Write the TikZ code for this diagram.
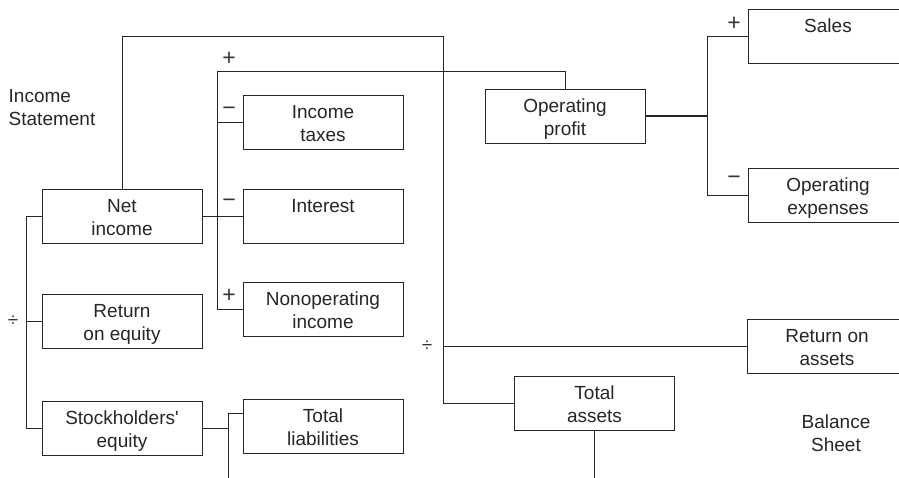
\documentclass[tikz,border=0pt]{standalone}
\usepackage{fontspec}
\setmainfont{Liberation Sans}[Ligatures=TeXOff]
\newcommand\mybox[5]{%
  \node[boxst] (#1) at #2 {};
  \node[txt] (#1t) at ([yshift=-3.2pt]#1.center) {\strut #3\\\strut #4};}
\begin{document}
\begin{tikzpicture}[x=1pt,y=-1pt,
  ln/.style={draw=black!85, line width=0.9pt},
  boxst/.style={draw=black!85, line width=0.9pt, minimum width=160pt, minimum height=54pt, inner sep=0pt},
  txt/.style={font=\fontsize{19}{23}\selectfont, align=center, inner sep=0pt, text=black!85},
  sgn/.style={font=\fontsize{23}{25}\selectfont, inner sep=0pt, text=black!80},
  dv/.style={font=\fontsize{19}{21}\selectfont, inner sep=0pt, text=black!80}]
\clip (0,0) rectangle (899,477);
% boxes
\mybox{ni}{(122,216)}{Net}{income}{}
\mybox{re}{(122,321.5)}{Return}{on equity}{}
\mybox{se}{(122,428)}{Stockholders'}{equity}{}
\mybox{it}{(323,122.5)}{Income}{taxes}{}
\mybox{int}{(323,216)}{Interest}{}{}
\mybox{nop}{(323,309)}{Nonoperating}{income}{}
\mybox{tl}{(323,426)}{Total}{liabilities}{}
\mybox{op}{(565,116)}{Operating}{profit}{}
\mybox{ta}{(594.5,403.5)}{Total}{assets}{}
\mybox{ra}{(827,346.5)}{Return on}{assets}{}
\mybox{sa}{(828,36)}{Sales}{}{}
\mybox{ox}{(828,195.5)}{Operating}{expenses}{}
% labels
\node[txt, align=left, anchor=west] (is) at (8.5,109.6) {\strut Income\\\strut Statement};
\node[txt] (bs) at (836,435) {\strut Balance\\\strut Sheet};
% coordinates
\coordinate (v) at (443,36);
\coordinate (w) at (217,71);
\coordinate (l) at (26,216);
\coordinate (c) at (228,413);
\coordinate (k) at (707,116);
% connectors
\draw[ln] (ni.north) |- (v) |- (ta.west);
\draw[ln] (ra.west) -- (ra.west -| v);
\draw[ln] (op.north) |- (w) |- (nop.west);
\draw[ln] (it.west) -- (it.west -| w);
\draw[ln] (ni.east) -- (int.west);
\draw[ln] (ni.west) -| (l |- se.west) -- (se.west);
\draw[ln] (re.west) -- (re.west -| l);
\draw[ln] (se.east) -- (se.east -| c);
\draw[ln] (c) -- ++(0,80);
\draw[ln] (c) -- (c -| tl.west);
\draw[ln] (ta.south) -- ++(0,80);
\draw[ln, line width=1.4pt] (op.east) -- (k);
\draw[ln] (sa.west) -| (k) |- (ox.west);
% signs
\node[sgn] (s1) at (229,58.7) {+};
\node[sgn] (s2) at (229,111.5) {−};
\node[sgn] (s3) at (229,203.5) {−};
\node[sgn] (s4) at (229,296) {+};
\node[dv] (s5) at (13,321) {÷};
\node[dv] (s6) at (427,346) {÷};
\node[sgn] (s7) at (734,24) {+};
\node[sgn] (s8) at (734,180.5) {−};
\end{tikzpicture}
\end{document}
